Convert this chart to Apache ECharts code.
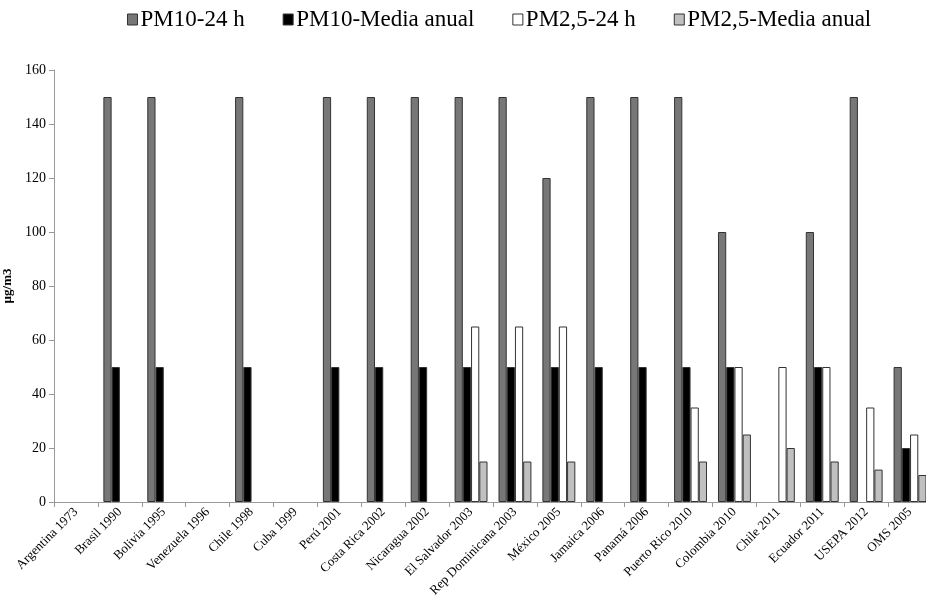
<!DOCTYPE html>
<html>
<head>
<meta charset="utf-8">
<script src="https://cdn.jsdelivr.net/npm/echarts@6/dist/echarts.min.js"></script>
<style>html,body{margin:0;padding:0;background:#fff}#c{width:926px;height:596px}</style>
</head>
<body>
<div id="c"></div>
<script>
const categories = ['Argentina 1973','Brasil 1990','Bolivia 1995','Venezuela 1996','Chile 1998','Cuba 1999','Perú 2001','Costa Rica 2002','Nicaragua 2002','El Salvador 2003','Rep Dominicana 2003','México 2005','Jamaica 2006','Panamá 2006','Puerto Rico 2010','Colombia 2010','Chile 2011','Ecuador 2011','USEPA 2012','OMS 2005'];
const pm10_24h   = [null,150,150,null,150,null,150,150,150,150,150,120,150,150,150,100,null,100,150,50];
const pm10_anual = [null,50,50,null,50,null,50,50,50,50,50,50,50,50,50,50,null,50,null,20];
const pm25_24h   = [null,null,null,null,null,null,null,null,null,65,65,65,null,null,35,50,50,50,35,25];
const pm25_anual = [null,null,null,null,null,null,null,null,null,15,15,15,null,null,15,25,20,15,12,10];
const seriesNames = ['PM10-24 h','PM10-Media anual','PM2,5-24 h','PM2,5-Media anual'];
const yTicks = {min:0, max:160, interval:20};

const colors = ['#777777','#000000','#ffffff','#c0c0c0'];
const serif = '"Liberation Serif","Times New Roman",serif';
const data = [pm10_24h, pm10_anual, pm25_24h, pm25_anual];

const chart = echarts.init(document.getElementById('c'), null, {renderer:'canvas'});
chart.setOption({
  animation:false,
  backgroundColor:'#fff',
  legend:{
    left:122, top:3, itemGap:38, itemWidth:10, itemHeight:11, icon:'rect',
    textStyle:{fontFamily:serif, fontSize:23, color:'#000', padding:[0,0,0,-2]},
    data: seriesNames.map((n,i)=>({name:n, itemStyle:{color:colors[i], borderColor:'#333', borderWidth:1}}))
  },
  grid:{left:54, right:-6, top:70, bottom:94, containLabel:false, outerBoundsMode:'none'},
  xAxis:{
    type:'category', data:categories,
    axisLine:{lineStyle:{color:'#999'}},
    axisTick:{show:true, alignWithLabel:false, length:5, lineStyle:{color:'#999'}},
    axisLabel:{rotate:45, interval:0, fontFamily:serif, fontSize:13, color:'#000', margin:8}
  },
  yAxis:{
    type:'value', min:yTicks.min, max:yTicks.max, interval:yTicks.interval,
    name:'µg/m3', nameLocation:'middle', nameGap:33,
    nameTextStyle:{fontFamily:serif, fontSize:13, fontWeight:'bold', color:'#000'},
    axisLine:{show:true, lineStyle:{color:'#999'}},
    axisTick:{show:true, length:5, lineStyle:{color:'#999'}},
    splitLine:{show:false},
    axisLabel:{fontFamily:serif, fontSize:14, color:'#000', margin:8}
  },
  series: seriesNames.map((n,i)=>({
    name:n, type:'bar', data:data[i],
    barGap:'0%', barCategoryGap:'25%',
    itemStyle:{color:colors[i], borderColor:'#333', borderWidth:1}
  }))
});
</script>
</body>
</html>
